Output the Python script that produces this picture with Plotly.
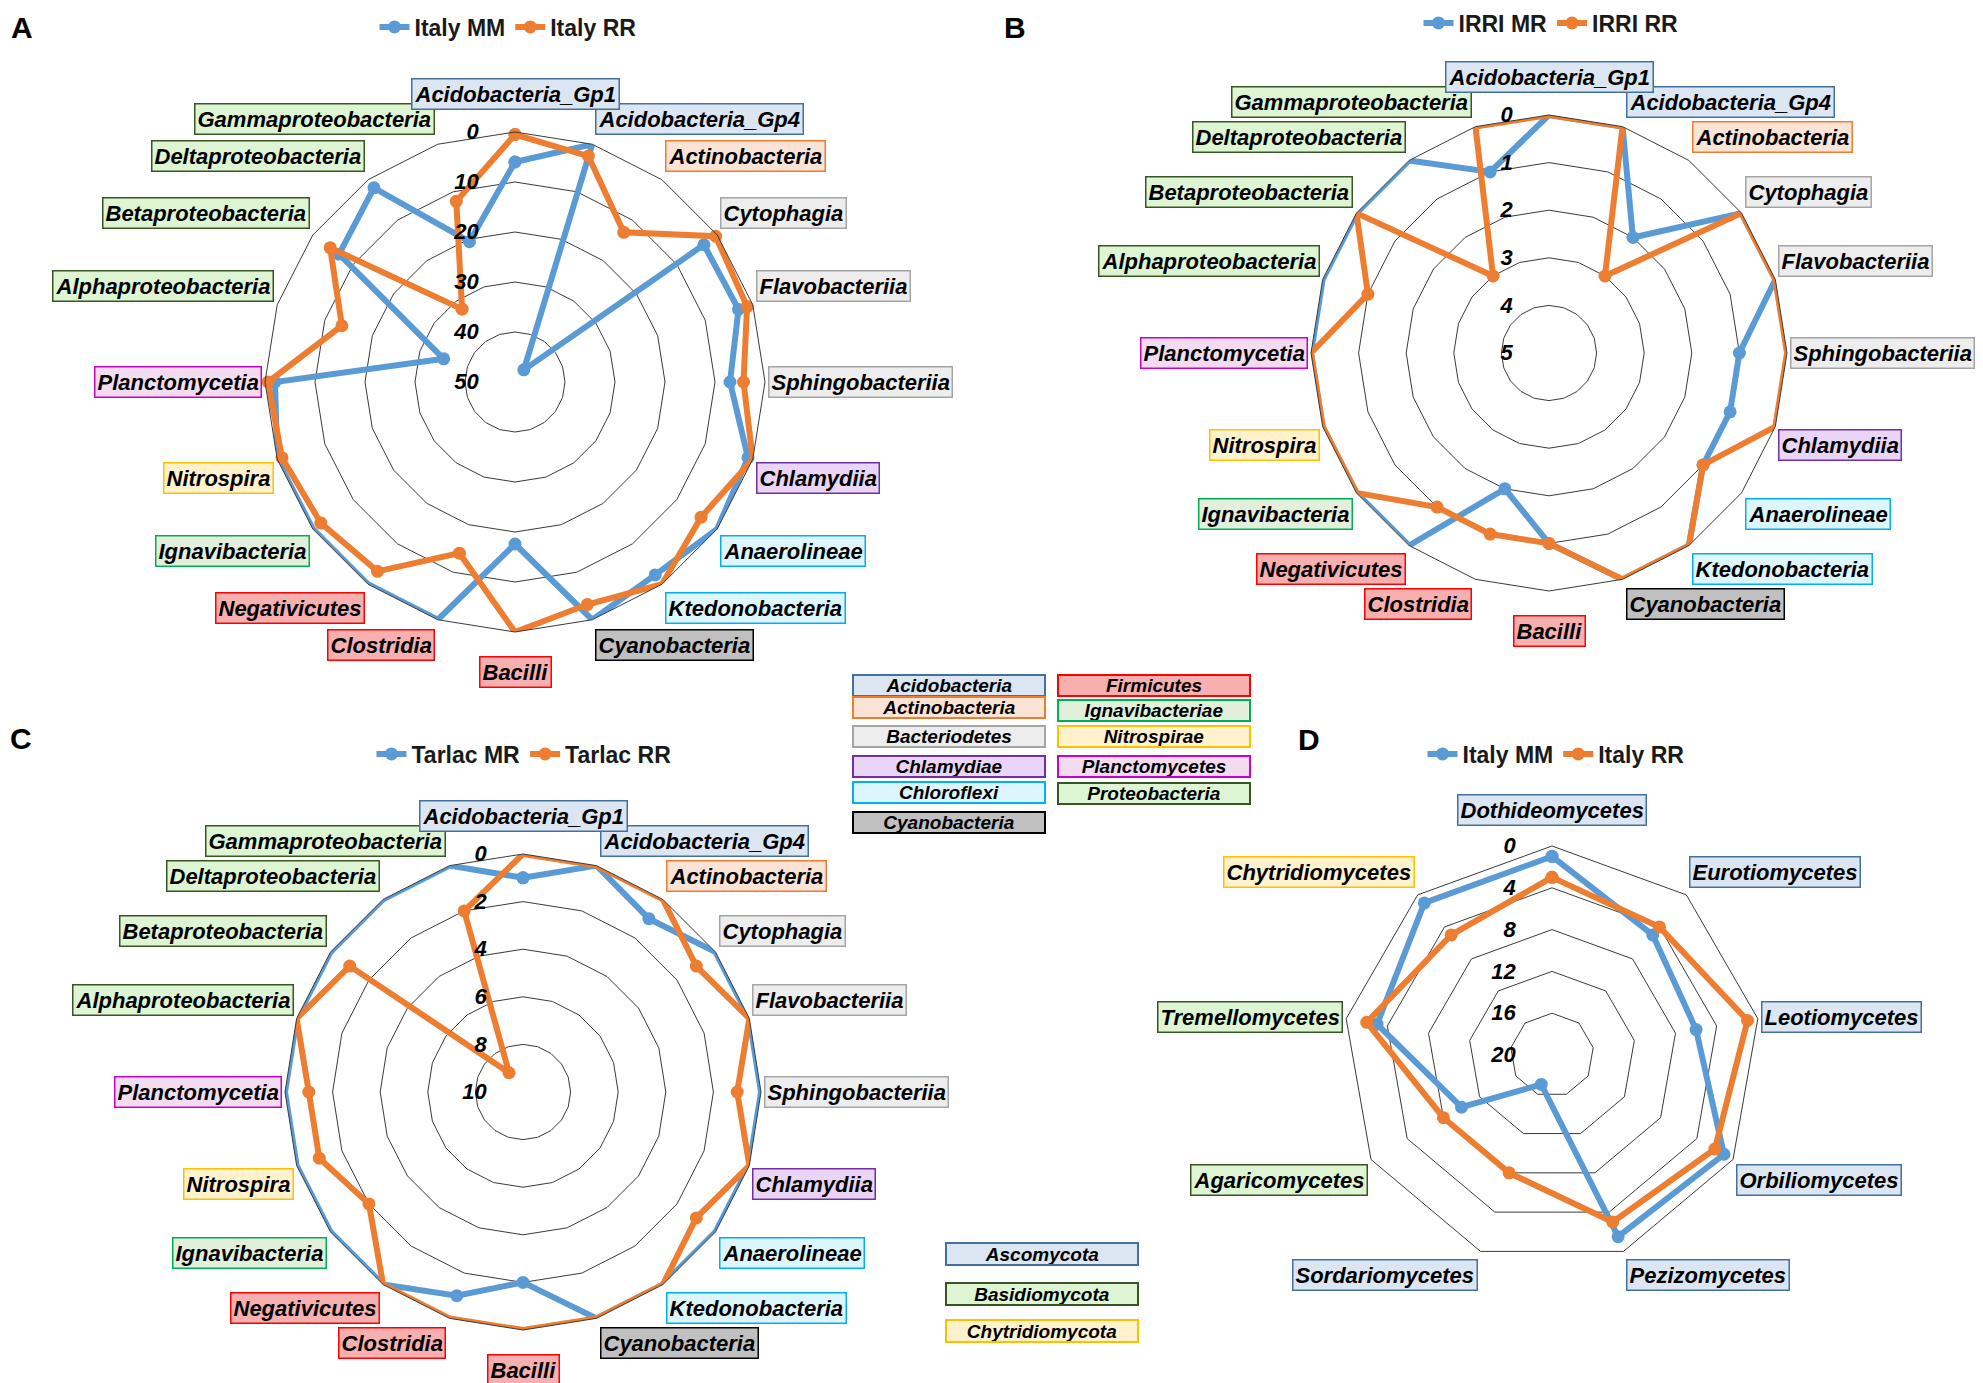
import math
import plotly.graph_objects as go

W, H = 1983, 1383
FONT = "Liberation Sans, Arial, sans-serif"

# ---------------- data ----------------
bact_classes = ["Acidobacteria_Gp1", "Acidobacteria_Gp4", "Actinobacteria", "Cytophagia",
                "Flavobacteriia", "Sphingobacteriia", "Chlamydiia", "Anaerolineae",
                "Ktedonobacteria", "Cyanobacteria", "Bacilli", "Clostridia", "Negativicutes",
                "Ignavibacteria", "Nitrospira", "Planctomycetia", "Alphaproteobacteria",
                "Betaproteobacteria", "Deltaproteobacteria", "Gammaproteobacteria"]
bact_phylum = ["Acidobacteria", "Acidobacteria", "Actinobacteria", "Bacteriodetes",
               "Bacteriodetes", "Bacteriodetes", "Chlamydiae", "Chloroflexi",
               "Chloroflexi", "Cyanobacteria", "Firmicutes", "Firmicutes", "Firmicutes",
               "Ignavibacteriae", "Nitrospirae", "Planctomycetes", "Proteobacteria",
               "Proteobacteria", "Proteobacteria", "Proteobacteria"]

italy_mm = [6, 0, 47, 3.3, 3, 7, 1, 0, 2.3, 0, 17.6, 0, 0, 0, 0, 2, 35, 6.5, 2, 20.5]
italy_rr = [0.5, 2.5, 13, 0.4, 1.2, 4.3, 0, 4, 0, 3.2, 0, 14, 3.2, 2, 1, 0.6, 13.6, 4.3, 32, 12]

irri_mr = [0, 0, 2, 0, 0, 1, 1, 1, 0, 0, 1, 2, 0, 0, 0, 0, 0, 0, 0, 1]
irri_rr = [0, 0, 3, 0, 0, 0, 0, 1, 0, 0, 1, 1, 1, 0, 0, 0, 1, 0, 3, 0]

tarlac_mr = [1, 0, 1, 0, 0, 0, 0, 0, 0, 0, 2, 1, 0, 0, 0, 0, 0, 0, 0, 0]
tarlac_rr = [0, 0, 0, 1, 0, 1, 0, 1, 0, 0, 0, 0, 0, 2, 1, 1, 0, 1, 9, 2]

fungi_classes = ["Dothideomycetes", "Eurotiomycetes", "Leotiomycetes", "Orbiliomycetes",
                 "Pezizomycetes", "Sordariomycetes", "Agaricomycetes", "Tremellomycetes",
                 "Chytridiomycetes"]
fungi_phylum = ["Ascomycota", "Ascomycota", "Ascomycota", "Ascomycota", "Ascomycota",
                "Ascomycota", "Basidiomycota", "Basidiomycota", "Chytridiomycota"]
fungi_italy_mm = [1, 5, 6, 1, 1.5, 17, 10, 3, 1]
fungi_italy_rr = [3, 4, 1, 2, 3, 8, 8, 2, 5]

bact_legend_left = ["Acidobacteria", "Actinobacteria", "Bacteriodetes", "Chlamydiae",
                    "Chloroflexi", "Cyanobacteria"]
bact_legend_right = ["Firmicutes", "Ignavibacteriae", "Nitrospirae", "Planctomycetes",
                     "Proteobacteria"]
fungi_legend = ["Ascomycota", "Basidiomycota", "Chytridiomycota"]

# ---------------- styles ----------------
BLUE = "#5B9BD5"
ORANGE = "#ED7D31"
box_style = {
    "Acidobacteria": ("#DCE6F2", "#41719C"),
    "Actinobacteria": ("#FBE4D5", "#ED7D31"),
    "Bacteriodetes": ("#EDEDED", "#A5A5A5"),
    "Chlamydiae": ("#EAD5F7", "#7030A0"),
    "Chloroflexi": ("#DDF5FD", "#00B0F0"),
    "Cyanobacteria": ("#C0C0C0", "#000000"),
    "Firmicutes": ("#F8AFAF", "#FF0000"),
    "Ignavibacteriae": ("#E2EFDA", "#00B050"),
    "Nitrospirae": ("#FFF2CC", "#FFC000"),
    "Planctomycetes": ("#F3DCF0", "#CC00CC"),
    "Proteobacteria": ("#DDF5D2", "#375623"),
    "Ascomycota": ("#DCE6F2", "#41719C"),
    "Basidiomycota": ("#DDF5D2", "#375623"),
    "Chytridiomycota": ("#FFF2CC", "#FFC000"),
}

# panel geometry (pixel centre and radius)
panels = [
    dict(key="polar", leg="legend", cx=507, cy=374, R=250, cats=bact_classes, phy=bact_phylum,
         series=[("Italy MM", italy_mm, BLUE), ("Italy RR", italy_rr, ORANGE)],
         rmax=50, dtick=10, letter="A", lx=14, ly=19, legx=500, legy=19),
    dict(key="polar2", leg="legend2", cx=1541, cy=345, R=238, cats=bact_classes, phy=bact_phylum,
         series=[("IRRI MR", irri_mr, BLUE), ("IRRI RR", irri_rr, ORANGE)],
         rmax=5, dtick=1, letter="B", lx=1007, ly=19, legx=1543, legy=15),
    dict(key="polar3", leg="legend3", cx=515, cy=1084, R=238, cats=bact_classes, phy=bact_phylum,
         series=[("Tarlac MR", tarlac_mr, BLUE), ("Tarlac RR", tarlac_rr, ORANGE)],
         rmax=10, dtick=2, letter="C", lx=13, ly=730, legx=516, legy=746),
    dict(key="polar4", leg="legend4", cx=1544, cy=1047, R=209, cats=fungi_classes, phy=fungi_phylum,
         series=[("Italy MM", fungi_italy_mm, BLUE), ("Italy RR", fungi_italy_rr, ORANGE)],
         rmax=20, dtick=4, letter="D", lx=1301, ly=731, legx=1548, legy=746),
]

fig = go.Figure()
annotations = []
layout = dict(width=W, height=H, margin=dict(l=0, r=0, t=0, b=0, autoexpand=False),
              paper_bgcolor="white", plot_bgcolor="white",
              font=dict(family=FONT, color="black"))

for p in panels:
    cats = p["cats"]
    for name, vals, col in p["series"]:
        fig.add_trace(go.Scatterpolar(
            r=list(vals) + [vals[0]], theta=list(cats) + [cats[0]],
            mode="lines+markers", name=name, subplot=p["key"], legend=p["leg"],
            line=dict(color=col, width=6), marker=dict(color=col, size=13),
        ))
    cx, cy, R = p["cx"], p["cy"], p["R"]
    tv = list(range(0, p["rmax"] + 1, p["dtick"]))
    layout[p["key"]] = dict(
        domain=dict(x=[(cx - R) / W, (cx + R) / W], y=[1 - (cy + R) / H, 1 - (cy - R) / H]),
        bgcolor="white", gridshape="linear",
        angularaxis=dict(type="category", categoryarray=cats, rotation=90, direction="clockwise",
                         showticklabels=False, ticks="", showgrid=False, showline=True,
                         linecolor="#3a3a3a", linewidth=1),
        radialaxis=dict(range=[p["rmax"], 0], tickvals=tv, ticktext=[str(v) for v in tv],
                        showline=False, ticks="outside", ticklen=28,
                        tickcolor="rgba(0,0,0,0)", gridcolor="#3a3a3a", gridwidth=1,
                        angle=90, side="counterclockwise", tickangle=90,
                        tickfont=dict(family=FONT, size=22, color="black",
                                      weight="bold", style="italic")),
    )
    layout[p["leg"]] = dict(orientation="h", x=p["legx"] / W, y=1 - p["legy"] / H,
                            xanchor="center", yanchor="middle", bgcolor="rgba(0,0,0,0)",
                            itemwidth=30, tracegroupgap=0,
                            font=dict(family=FONT, size=23, color="#1a1a1a", weight="bold"))
    # panel letter
    annotations.append(dict(text=p["letter"], xref="paper", yref="paper", showarrow=False,
                            x=p["lx"] / W, y=1 - p["ly"] / H, xanchor="center", yanchor="middle",
                            borderpad=0,
                            font=dict(family=FONT, size=30, color="black", weight="bold")))
    # category labels in coloured boxes (placed on a slightly taller ellipse, as in the source)
    n = len(cats)
    Ry = R * 1.04
    cat_anns = []
    for i, (c, ph) in enumerate(zip(cats, p["phy"])):
        th = math.radians(360.0 * i / n)
        s, co = math.sin(th), math.cos(th)
        x = cx + R * s
        y = cy - Ry * co
        if abs(s) < 0.05:
            xa = "center"
            if co > 0:
                y -= 12
                ya = "bottom"
            else:
                y += 14
                ya = "top"
        else:
            xa = "left" if s > 0 else "right"
            x += 3 if s > 0 else -3
            if abs(co) < 0.2:
                ya = "middle"
            elif co > 0:
                ya = "bottom"
            else:
                ya = "top"
        fill, border = box_style[ph]
        cat_anns.append(dict(text=c, xref="paper", yref="paper", showarrow=False,
                             x=x / W, y=1 - y / H, xanchor=xa, yanchor=ya,
                             bgcolor=fill, bordercolor=border, borderwidth=1.5, borderpad=2,
                             font=dict(family=FONT, size=22, color="black",
                                       weight="bold", style="italic")))
    # draw the top label last so it sits above its neighbours
    annotations.extend(cat_anns[1:] + cat_anns[:1])

# phylum key boxes (bacteria)
row_y_left = [677, 699, 728, 758, 784, 814]
row_y_right = [677, 702, 728, 758, 785]
key_font = dict(family=FONT, size=19, color="black", weight="bold", style="italic")
for name, yy in zip(bact_legend_left, row_y_left):
    fill, border = box_style[name]
    annotations.append(dict(text=name, xref="paper", yref="paper", showarrow=False,
                            x=941 / W, y=1 - yy / H, xanchor="center", yanchor="middle",
                            width=190, height=19, bgcolor=fill, bordercolor=border,
                            borderwidth=2, borderpad=0, font=key_font))
for name, yy in zip(bact_legend_right, row_y_right):
    fill, border = box_style[name]
    annotations.append(dict(text=name, xref="paper", yref="paper", showarrow=False,
                            x=1146 / W, y=1 - yy / H, xanchor="center", yanchor="middle",
                            width=190, height=19, bgcolor=fill, bordercolor=border,
                            borderwidth=2, borderpad=0, font=key_font))
# phylum key boxes (fungi)
for name, yy in zip(fungi_legend, [1246, 1286, 1323]):
    fill, border = box_style[name]
    annotations.append(dict(text=name, xref="paper", yref="paper", showarrow=False,
                            x=1034 / W, y=1 - yy / H, xanchor="center", yanchor="middle",
                            width=190, height=20, bgcolor=fill, bordercolor=border,
                            borderwidth=2, borderpad=0, font=key_font))

layout["annotations"] = annotations
fig.update_layout(**layout)
fig.write_html("out.html")
